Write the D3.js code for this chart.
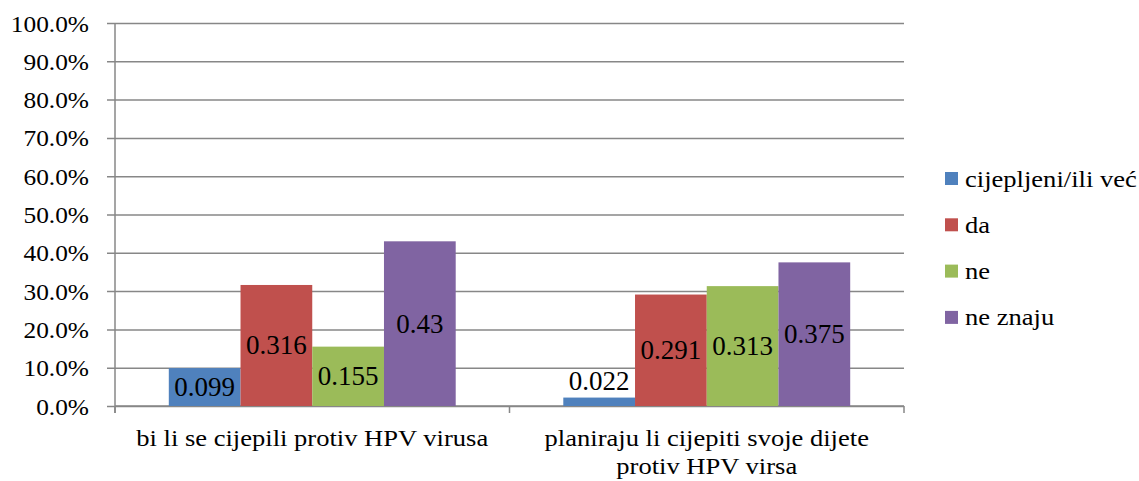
<!DOCTYPE html>
<html>
<head>
<meta charset="utf-8">
<script src="https://cdn.jsdelivr.net/npm/d3@7"></script>
<style>
  body { margin: 0; background: #fff; }
</style>
</head>
<body>
<svg id="chart" width="1139" height="481"></svg>
<script>
  // chart data
  var categories = [
    ['bi li se cijepili protiv HPV virusa'],
    ['planiraju li cijepiti svoje dijete', 'protiv HPV virsa']
  ];
  var seriesNames = ['cijepljeni/ili već', 'da', 'ne', 'ne znaju'];
  var seriesColors = ['#4F81BD', '#C0504D', '#9BBB59', '#8064A2'];
  var values = [
    [0.099, 0.316, 0.155, 0.43],
    [0.022, 0.291, 0.313, 0.375]
  ];
  var yTicks = [0, 0.1, 0.2, 0.3, 0.4, 0.5, 0.6, 0.7, 0.8, 0.9, 1];

  var serif = "'Liberation Serif', 'DejaVu Serif', serif";
  var svg = d3.select('#chart');
  var plotL = 115, plotR = 904, plotT = 23, plotB = 406;
  var axisColor = '#878787';
  var stretch = 1.13; // the original text looks widened a bit

  var x = d3.scaleBand()
    .domain(d3.range(categories.length))
    .range([plotL, plotR]);

  var xInner = d3.scaleBand()
    .domain(seriesNames)
    .range([0, x.bandwidth()])
    .paddingInner(0)
    .paddingOuter(0.75);

  var y = d3.scaleLinear()
    .domain([0, 1])
    .range([plotB, plotT]);

  // gridlines + left axis
  var yAxis = d3.axisLeft(y)
    .tickValues(yTicks)
    .tickSize(-(plotR - plotL))
    .tickFormat(d3.format('.1%'));

  var gy = svg.append('g')
    .attr('transform', 'translate(' + plotL + ',0)')
    .call(yAxis)
    .attr('font-family', null);
  gy.select('.domain').remove();
  gy.selectAll('.tick line')
    .attr('x1', -8)
    .attr('stroke', axisColor)
    .attr('stroke-width', 1.5);
  gy.selectAll('.tick text')
    .attr('x', 0)
    .attr('dy', '0.34em')
    .attr('transform', 'translate(-26,0) scale(1.08,1)')
    .attr('font-family', serif)
    .attr('font-size', 23.5)
    .attr('fill', '#000')
    .attr('text-anchor', 'end');

  svg.append('line')
    .attr('x1', plotL).attr('x2', plotL)
    .attr('y1', plotT).attr('y2', plotB + 7)
    .attr('stroke', axisColor)
    .attr('stroke-width', 1.5);

  // bottom axis with category separators
  svg.append('line')
    .attr('x1', plotL).attr('x2', plotR)
    .attr('y1', plotB).attr('y2', plotB)
    .attr('stroke', axisColor)
    .attr('stroke-width', 1.5);
  var sep = categories.map(function (c, i) { return x(i); }).concat([plotR]);
  svg.selectAll('.sep')
    .data(sep)
    .enter().append('line')
    .attr('x1', function (d) { return d; })
    .attr('x2', function (d) { return d; })
    .attr('y1', plotB)
    .attr('y2', plotB + 7)
    .attr('stroke', axisColor)
    .attr('stroke-width', 1.5);

  // bars
  var groups = svg.selectAll('.grp')
    .data(values)
    .enter().append('g')
    .attr('transform', function (d, i) { return 'translate(' + x(i) + ',0)'; });

  groups.selectAll('rect')
    .data(function (d) { return d; })
    .enter().append('rect')
    .attr('x', function (d, j) { return xInner(seriesNames[j]); })
    .attr('width', xInner.bandwidth())
    .attr('y', function (d) { return y(d); })
    .attr('height', function (d) { return plotB - y(d); })
    .attr('fill', function (d, j) { return seriesColors[j]; });

  groups.selectAll('.lbl')
    .data(function (d) { return d; })
    .enter().append('text')
    .attr('x', function (d, j) { return xInner(seriesNames[j]) + xInner.bandwidth() / 2; })
    .attr('y', function (d) {
      var h = plotB - y(d);
      return h < 26 ? y(d) - 8 : (y(d) + plotB) / 2 + 9;
    })
    .attr('text-anchor', 'middle')
    .attr('font-family', serif)
    .attr('font-size', 27)
    .text(function (d) { return String(d); });

  // category labels
  var cl = svg.selectAll('.cat')
    .data(categories)
    .enter().append('text')
    .attr('text-anchor', 'middle')
    .attr('font-family', serif)
    .attr('font-size', 23.5)
    .attr('transform', function (d, i) {
      return 'translate(' + (x(i) + x.bandwidth() / 2) + ',446) scale(' + stretch + ',1)';
    });
  cl.selectAll('tspan')
    .data(function (d) { return d; })
    .enter().append('tspan')
    .attr('x', 0)
    .attr('y', function (d, k) { return k * 28; })
    .text(function (d) { return d; });

  // legend
  var lg = svg.selectAll('.leg')
    .data(seriesNames)
    .enter().append('g')
    .attr('transform', function (d, i) { return 'translate(945,' + (179 + i * 46.3) + ')'; });
  lg.append('rect')
    .attr('x', 0).attr('y', -7)
    .attr('width', 13).attr('height', 13)
    .attr('fill', function (d, i) { return seriesColors[i]; });
  lg.append('text')
    .attr('transform', 'translate(20,0) scale(' + stretch + ',1)')
    .attr('dy', '0.32em')
    .attr('font-family', serif)
    .attr('font-size', 23.5)
    .text(function (d) { return d; });
</script>
</body>
</html>
